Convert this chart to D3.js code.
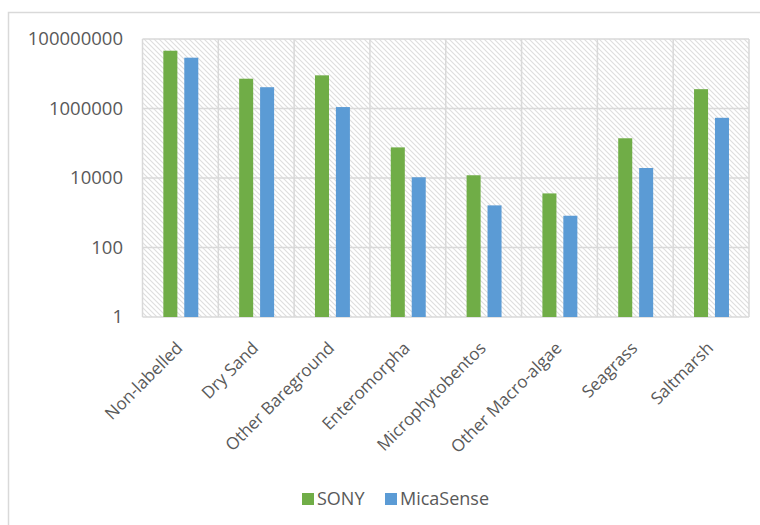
<!DOCTYPE html>
<html>
<head>
<meta charset="utf-8">
<script src="https://cdn.jsdelivr.net/npm/d3@7"></script>
<style>
  body { margin: 0; background: #fff; }
  svg { display: block; }
  text { font-family: "Open Sans", "Noto Sans", sans-serif; fill: #595959; }
</style>
</head>
<body>
<div id="chart"></div>
<script>
// data
var categories = ["Non-labelled", "Dry Sand", "Other Bareground", "Enteromorpha",
  "Microphytobentos", "Other Macro-algae", "Seagrass", "Saltmarsh"];
var seriesNames = ["SONY", "MicaSense"];
var sonyValues = [46000000, 7200000, 9000000, 76000, 12000, 3600, 139000, 3600000];
var micaValues = [29000000, 4100000, 1100000, 10500, 1630, 820, 19400, 540000];
var yTicks = [1, 100, 10000, 1000000, 100000000];
var colors = ["#70AD47", "#5B9BD5"];

var width = 760, height = 525;
var svg = d3.select("#chart").append("svg")
  .attr("width", width)
  .attr("height", height);

// hatched plot background
var defs = svg.append("defs");
var pat = defs.append("pattern")
  .attr("id", "hatch")
  .attr("patternUnits", "userSpaceOnUse")
  .attr("width", 5)
  .attr("height", 5);
pat.append("rect").attr("width", 5).attr("height", 5).attr("fill", "#fff");
pat.append("path")
  .attr("d", "M0,0 L5,5 M-1,4 L1,6 M4,-1 L6,1")
  .attr("stroke", "#dedede")
  .attr("stroke-width", 1.1);

// chart outer border
svg.append("rect")
  .attr("x", 8.5).attr("y", 12.5)
  .attr("width", 800).attr("height", 600)
  .attr("fill", "none")
  .attr("stroke", "#d9d9d9")
  .attr("stroke-width", 1.5);

var plot = { left: 142.5, right: 749, top: 39, bottom: 317 };

var x = d3.scaleBand()
  .domain(categories)
  .range([plot.left, plot.right])
  .paddingInner(0).paddingOuter(0);

var cw = x.bandwidth();
var xs = d3.scaleBand()
  .domain(seriesNames)
  .range([cw * 0.275, cw * 0.736])
  .paddingInner(0.33);

var y = d3.scaleLog()
  .domain([1, 100000000])
  .range([plot.bottom, plot.top]);

svg.append("rect")
  .attr("x", plot.left).attr("y", plot.top)
  .attr("width", plot.right - plot.left)
  .attr("height", plot.bottom - plot.top)
  .attr("fill", "url(#hatch)");

// horizontal gridlines
svg.append("g").selectAll("line")
  .data(yTicks)
  .enter().append("line")
  .attr("x1", plot.left).attr("x2", plot.right)
  .attr("y1", function (d) { return y(d); })
  .attr("y2", function (d) { return y(d); })
  .attr("stroke", "#d9d9d9")
  .attr("stroke-width", 1.5);

// vertical category separators
var seps = categories.map(function (c) { return x(c); }).concat([plot.right]);
svg.append("g").selectAll("line")
  .data(seps)
  .enter().append("line")
  .attr("x1", function (d) { return d; }).attr("x2", function (d) { return d; })
  .attr("y1", plot.top).attr("y2", plot.bottom)
  .attr("stroke", "#d9d9d9")
  .attr("stroke-width", 1.5);

// bars
var rows = categories.map(function (c, i) {
  return { cat: c, vals: [sonyValues[i], micaValues[i]] };
});
var groups = svg.append("g").selectAll("g")
  .data(rows)
  .enter().append("g")
  .attr("transform", function (d) { return "translate(" + x(d.cat) + ",0)"; });

groups.selectAll("rect")
  .data(function (d) {
    return d.vals.map(function (v, j) { return { name: seriesNames[j], value: v, j: j }; });
  })
  .enter().append("rect")
  .attr("x", function (d) { return xs(d.name); })
  .attr("width", xs.bandwidth())
  .attr("y", function (d) { return y(d.value); })
  .attr("height", function (d) { return y(1) - y(d.value); })
  .attr("fill", function (d) { return colors[d.j]; });

// y tick labels
svg.append("g").selectAll("text")
  .data(yTicks)
  .enter().append("text")
  .attr("x", 123)
  .attr("y", function (d) { return y(d); })
  .attr("dy", "0.35em")
  .attr("text-anchor", "end")
  .style("font-size", "18.5px")
  .text(function (d) { return d3.format("d")(d); });

// category labels, rotated
svg.append("g").selectAll("text")
  .data(categories)
  .enter().append("text")
  .attr("transform", function (d) {
    return "translate(" + (x(d) + cw / 2 - 1) + ",345) rotate(-45)";
  })
  .attr("text-anchor", "end")
  .attr("dy", "0.35em")
  .style("font-size", "17px")
  .text(function (d) { return d; });

// legend
var legend = svg.append("g");
var legendX = [302, 385];
seriesNames.forEach(function (name, i) {
  legend.append("rect")
    .attr("x", legendX[i]).attr("y", 493)
    .attr("width", 12).attr("height", 12)
    .attr("fill", colors[i]);
  legend.append("text")
    .attr("x", legendX[i] + 15).attr("y", 499)
    .attr("dy", "0.35em")
    .style("font-size", "18px")
    .text(name);
});
</script>
</body>
</html>
